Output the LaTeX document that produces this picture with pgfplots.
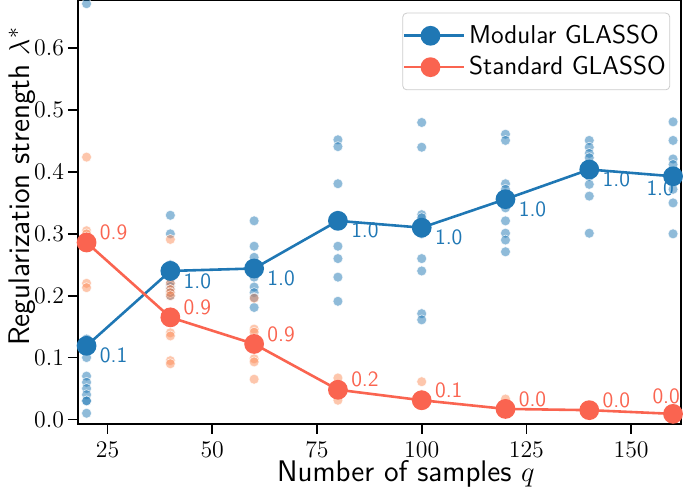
\documentclass[border=0pt]{standalone}
\usepackage{pgfplots}
\pgfplotsset{compat=1.18}
\definecolor{tabblue}{HTML}{1F77B4}
\definecolor{tred}{HTML}{FA6450}
\definecolor{tora}{HTML}{FC8D59}
\definecolor{lgray}{HTML}{CCCCCC}
\begin{document}
\begin{tikzpicture}
\begin{axis}[
  scale only axis, width=302.5bp, height=212.5bp,
  xmin=17.9, xmax=161.9, ymin=-0.007, ymax=0.678,
  xtick={25,50,75,100,125,150}, ytick={0,0.1,0.2,0.3,0.4,0.5,0.6},
  ticklabel style={font=\fontsize{13}{15}\selectfont, inner sep=1bp},
  xticklabel style={yshift=-3.2bp},
  yticklabel style={xshift=-0.7bp, /pgf/number format/.cd, fixed, fixed zerofill, precision=1},
  tick align=outside, major tick length=5bp,
  tick style={black, line width=0.8bp},
  xtick pos=left, ytick pos=left,
  axis line style={line width=0.8bp},
  xlabel={Number of samples $q$},
  ylabel={Regularization strength $\lambda^*$},
  label style={font=\sffamily\fontsize{15}{17}\selectfont, inner sep=0pt},
  xlabel style={at={(axis description cs:0.544,0)}, anchor=center, yshift=-25.3bp},
  ylabel style={at={(axis description cs:0,0.56)}, anchor=center, yshift=28bp},
  legend style={at={(0.982,0.97)}, anchor=north east, draw=lgray, rounded corners=2bp,
    fill=white, font=\sffamily\fontsize{13}{15}\selectfont, inner xsep=0bp, inner ysep=4bp,
    row sep=1bp},
  legend cell align=left,
  legend image code/.code={\path (0bp,0bp) -- (30bp,0bp);\draw[mark repeat=2,mark phase=2] plot coordinates {(0bp,0bp) (13.25bp,0bp) (26.5bp,0bp)};},
]
% scatter: modular
\addplot[only marks, mark=*, mark size=2.5bp, mark options={fill=tabblue, fill opacity=0.5, draw=white, draw opacity=0.8, line width=0.3bp}, forget plot] coordinates {
(20,0.672) (20,0.13) (20,0.10) (20,0.07) (20,0.06) (20,0.05) (20,0.04) (20,0.03) (20,0.03) (20,0.01)
(40,0.33) (40,0.30) (40,0.25) (40,0.24) (40,0.23) (40,0.22) (40,0.215) (40,0.21) (40,0.205) (40,0.20)
(60,0.321) (60,0.280) (60,0.262) (60,0.25) (60,0.230) (60,0.214) (60,0.205) (60,0.197) (60,0.181)
(80,0.452) (80,0.441) (80,0.381) (80,0.33) (80,0.280) (80,0.260) (80,0.230) (80,0.191)
(100,0.480) (100,0.44) (100,0.331) (100,0.326) (100,0.30) (100,0.260) (100,0.240) (100,0.171) (100,0.161)
(120,0.461) (120,0.451) (120,0.381) (120,0.372) (120,0.36) (120,0.342) (120,0.321) (120,0.301) (120,0.290) (120,0.271)
(140,0.451) (140,0.44) (140,0.43) (140,0.423) (140,0.41) (140,0.393) (140,0.38) (140,0.361) (140,0.301)
(160,0.481) (160,0.451) (160,0.421) (160,0.412) (160,0.40) (160,0.372) (160,0.350) (160,0.300)
};
% scatter: standard
\addplot[only marks, mark=*, mark size=2.5bp, mark options={fill=tora, fill opacity=0.5, draw=white, draw opacity=0.8, line width=0.3bp}, forget plot] coordinates {
(20,0.424) (20,0.305) (20,0.30) (20,0.295) (20,0.29) (20,0.28) (20,0.22) (20,0.213)
(40,0.291) (40,0.22) (40,0.21) (40,0.205) (40,0.20) (40,0.17) (40,0.16) (40,0.14) (40,0.135) (40,0.095) (40,0.09)
(60,0.196) (60,0.146) (60,0.141) (60,0.13) (60,0.12) (60,0.098) (60,0.093) (60,0.065)
(80,0.067) (80,0.055) (80,0.04) (80,0.031)
(100,0.061) (100,0.04) (100,0.025)
(120,0.033) (120,0.022) (120,0.012)
(140,0.02) (140,0.01)
(160,0.012) (160,0.005)
};
\addplot[tabblue, line width=1.3bp, mark=*, mark size=4.3bp, mark options={fill=tabblue, draw=none}] coordinates {
(20,0.119) (40,0.240) (60,0.244) (80,0.321) (100,0.310) (120,0.356) (140,0.404) (160,0.393)
};
\addlegendentry{Modular GLASSO}
\addplot[tred, line width=1.3bp, mark=*, mark size=4.3bp, mark options={fill=tred, draw=none}] coordinates {
(20,0.286) (40,0.165) (60,0.122) (80,0.048) (100,0.031) (120,0.017) (140,0.015) (160,0.009)
};
\addlegendentry{Standard GLASSO}
% annotations
\begin{scope}[every node/.style={font=\sffamily\fontsize{11}{13}\selectfont, inner sep=0pt}]
\node[anchor=west, text=tabblue, xshift=6.5bp, yshift=-5bp] at (axis cs:20,0.119) {0.1};
\node[anchor=west, text=tabblue, xshift=6.5bp, yshift=-5bp] at (axis cs:40,0.240) {1.0};
\node[anchor=west, text=tabblue, xshift=6.5bp, yshift=-5bp] at (axis cs:60,0.244) {1.0};
\node[anchor=west, text=tabblue, xshift=6.5bp, yshift=-5bp] at (axis cs:80,0.321) {1.0};
\node[anchor=west, text=tabblue, xshift=6.5bp, yshift=-5bp] at (axis cs:100,0.310) {1.0};
\node[anchor=west, text=tabblue, xshift=6.5bp, yshift=-5bp] at (axis cs:120,0.356) {1.0};
\node[anchor=west, text=tabblue, xshift=6.5bp, yshift=-5bp] at (axis cs:140,0.404) {1.0};
\node[anchor=west, text=tabblue, xshift=-13.5bp, yshift=-6bp] at (axis cs:160,0.393) {1.0};
\node[anchor=west, text=tred, xshift=6.5bp, yshift=5bp] at (axis cs:20,0.286) {0.9};
\node[anchor=west, text=tred, xshift=6.5bp, yshift=5bp] at (axis cs:40,0.165) {0.9};
\node[anchor=west, text=tred, xshift=6.5bp, yshift=5bp] at (axis cs:60,0.122) {0.9};
\node[anchor=west, text=tred, xshift=6.5bp, yshift=5bp] at (axis cs:80,0.048) {0.2};
\node[anchor=west, text=tred, xshift=6.5bp, yshift=5bp] at (axis cs:100,0.031) {0.1};
\node[anchor=west, text=tred, xshift=6.5bp, yshift=5bp] at (axis cs:120,0.017) {0.0};
\node[anchor=west, text=tred, xshift=6.5bp, yshift=5bp] at (axis cs:140,0.015) {0.0};
\node[anchor=west, text=tred, xshift=-10.5bp, yshift=9bp] at (axis cs:160,0.009) {0.0};
\end{scope}
\coordinate (bl) at (rel axis cs:0,0);
\coordinate (tr) at (rel axis cs:1,1);
\end{axis}
\pgfresetboundingbox
\path (bl) ++(-39bp,-32bp) coordinate (BB1);
\path (tr) ++(2bp,0bp) coordinate (BB2);
\useasboundingbox (BB1) rectangle (BB2);
\end{tikzpicture}
\end{document}
